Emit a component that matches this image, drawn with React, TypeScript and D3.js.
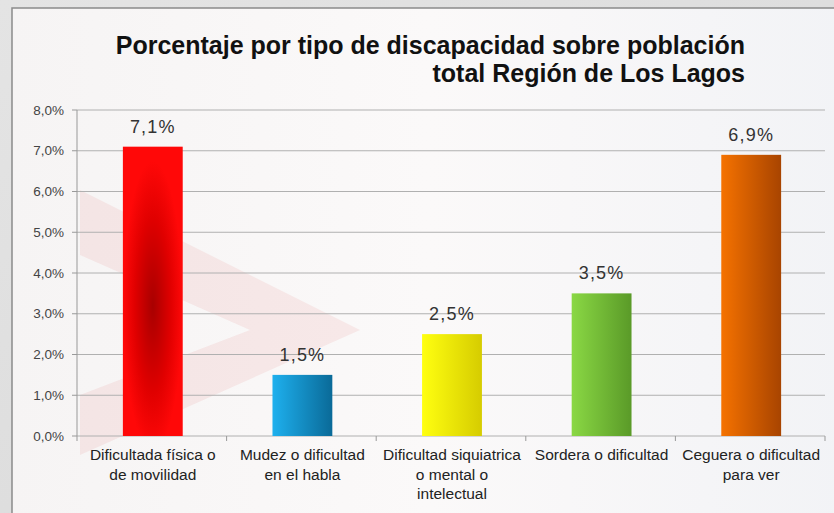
import React from "react";
import * as d3 from "d3";

const categories = [
  ["Dificultada física o", "de movilidad"],
  ["Mudez o dificultad", "en el habla"],
  ["Dificultad siquiatrica", "o mental o", "intelectual"],
  ["Sordera o dificultad"],
  ["Ceguera o dificultad", "para ver"],
];
const values = [7.1, 1.5, 2.5, 3.5, 6.9];
const valueLabels = ["7,1%", "1,5%", "2,5%", "3,5%", "6,9%"];
const yTicks = [0, 1, 2, 3, 4, 5, 6, 7, 8];
const titleLines = [
  "Porcentaje por tipo de discapacidad sobre población",
  "total Región de Los Lagos",
];
const barGradients = [
  { id: "g0", from: "#ff0a0a", to: "#ff0a0a" },
  { id: "g1", from: "#1eb0ee", to: "#0a6a98" },
  { id: "g2", from: "#ffff10", to: "#d6cc00" },
  { id: "g3", from: "#8ad844", to: "#5a9a28" },
  { id: "g4", from: "#f57200", to: "#a84400" },
];

const W = 834;
const H = 513;
const left = 77;
const right = 825;
const top = 110;
const bottom = 436;

export default function App() {
  const x = d3
    .scaleBand<number>()
    .domain(d3.range(categories.length))
    .range([left, right])
    .paddingInner(0)
    .paddingOuter(0);
  const y = d3.scaleLinear().domain([0, 8]).range([bottom, top]);
  const bw = x.bandwidth();
  const barW = bw * 0.4;
  const font = "'Liberation Sans', Arial, sans-serif";

  return (
    <svg
      width={W}
      height={H}
      style={{ position: "absolute", left: 0, top: 0, display: "block" }}
    >
      <defs>
        <linearGradient id="outerBg" x1="0" y1="0" x2="1" y2="1">
          <stop offset="0" stopColor="#e4e4e4" />
          <stop offset="1" stopColor="#d8d8d8" />
        </linearGradient>
        <linearGradient id="panelBg" x1="0" y1="0" x2="1" y2="0">
          <stop offset="0" stopColor="#f6f4f4" />
          <stop offset="0.5" stopColor="#fbf9f9" />
          <stop offset="1" stopColor="#f2f3f6" />
        </linearGradient>
        <radialGradient id="g0" cx="0.5" cy="0.55" r="0.5">
          <stop offset="0" stopColor="#a80000" />
          <stop offset="0.6" stopColor="#e00000" />
          <stop offset="1" stopColor="#ff0808" />
        </radialGradient>
        {barGradients.slice(1).map((g) => (
          <linearGradient key={g.id} id={g.id} x1="0" y1="0" x2="1" y2="0">
            <stop offset="0" stopColor={g.from} />
            <stop offset="1" stopColor={g.to} />
          </linearGradient>
        ))}
      </defs>

      <rect x={0} y={0} width={W} height={H} fill="url(#outerBg)" />
      <rect x={12} y={8} width={W} height={H} fill="url(#panelBg)" stroke="#8a8a8a" strokeWidth={1.5} />

      {/* faint background decoration */}
      <path d="M 80 190 L 360 330 L 80 455 L 80 395 L 250 330 L 80 255 Z" fill="#d21a1a" opacity={0.07} />

      {/* gridlines */}
      {yTicks.map((t) => (
        <line key={t} x1={left} x2={right} y1={y(t)} y2={y(t)} stroke="#b0b0b0" strokeWidth={1} />
      ))}
      {/* axes */}
      <line x1={left} x2={left} y1={top} y2={bottom} stroke="#999" strokeWidth={1} />
      {yTicks.map((t) => (
        <line key={"yt" + t} x1={left - 5} x2={left} y1={y(t)} y2={y(t)} stroke="#999" />
      ))}
      {d3.range(categories.length + 1).map((i) => {
        const xx = i < categories.length ? (x(i) as number) : right;
        return <line key={"xt" + i} x1={xx} x2={xx} y1={bottom} y2={bottom + 5} stroke="#999" />;
      })}
      {yTicks.map((t) => (
        <text
          key={"yl" + t}
          x={64}
          y={y(t)}
          dy="0.35em"
          textAnchor="end"
          fontFamily={font}
          fontSize={13.5}
          fill="#444"
        >
          {t.toFixed(1).replace(".", ",") + "%"}
        </text>
      ))}

      {/* bars */}
      {values.map((v, i) => {
        const cx = (x(i) as number) + bw / 2 + 1;
        return (
          <g key={"b" + i}>
            <rect
              x={cx - barW / 2}
              y={y(v)}
              width={barW}
              height={y(0) - y(v)}
              fill={`url(#${barGradients[i].id})`}
            />
            <text
              x={cx}
              y={y(v) - 14}
              textAnchor="middle"
              fontFamily={font}
              fontSize={18}
              letterSpacing={1.2}
              fill="#333"
            >
              {valueLabels[i]}
            </text>
          </g>
        );
      })}

      {/* category labels */}
      {categories.map((lines, i) => {
        const cx = (x(i) as number) + bw / 2 + 1;
        return (
          <text key={"c" + i} textAnchor="middle" fontFamily={font} fontSize={15.5} fill="#222">
            {lines.map((l, j) => (
              <tspan key={j} x={cx} y={460 + j * 19.5}>
                {l}
              </tspan>
            ))}
          </text>
        );
      })}

      {/* title */}
      {titleLines.map((l, j) => (
        <text
          key={"t" + j}
          x={745}
          y={54 + j * 28}
          textAnchor="end"
          fontFamily={font}
          fontWeight="bold"
          fontSize={25}
          fill="#111"
        >
          {l}
        </text>
      ))}
    </svg>
  );
}
